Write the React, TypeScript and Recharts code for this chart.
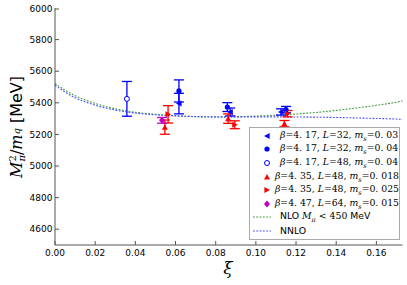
import React from 'react';
import {
  ComposedChart,
  Line,
  Scatter,
  ErrorBar,
  XAxis,
  YAxis,
} from 'recharts';

// lattice points: xi, value, error
const b417L32ms03 = [
  { x: 0.0617, y: 5395, err: 65 },
  { x: 0.0872, y: 5342, err: 25 },
  { x: 0.1125, y: 5342, err: 20 },
];
const b417L32ms04 = [
  { x: 0.0617, y: 5475, err: 70 },
  { x: 0.0858, y: 5373, err: 28 },
  { x: 0.1150, y: 5357, err: 20 },
];
const b417L48ms04 = [{ x: 0.0358, y: 5425, err: 110 }];
const b435L48ms018 = [
  { x: 0.0547, y: 5246, err: 45 },
  { x: 0.0862, y: 5300, err: 30 },
  { x: 0.1142, y: 5268, err: 20 },
];
const b435L48ms025 = [
  { x: 0.0563, y: 5327, err: 55 },
  { x: 0.0895, y: 5261, err: 25 },
  { x: 0.1158, y: 5331, err: 20 },
];
const b447L64ms015 = [{ x: 0.0533, y: 5289, err: 18 }];

// fit curves
const curveXi = [0, 0.01, 0.02, 0.03, 0.04, 0.05, 0.06, 0.07, 0.08, 0.09, 0.1, 0.11, 0.12, 0.13, 0.14, 0.15, 0.16, 0.17, 0.173];
const nloValues = [5522, 5445, 5396, 5362, 5340, 5327, 5318, 5312, 5310, 5312, 5316, 5321, 5329, 5339, 5352, 5367, 5384, 5404, 5412];
const nnloValues = [5511, 5432, 5385, 5354, 5335, 5324, 5317, 5313, 5311, 5311, 5311, 5311, 5310, 5309, 5307, 5304, 5301, 5297, 5295];

const xTicks = [0, 0.02, 0.04, 0.06, 0.08, 0.1, 0.12, 0.14, 0.16];
const yTicks = [4600, 4800, 5000, 5200, 5400, 5600, 5800, 6000];

const nloData = curveXi.map((x, i) => ({ x, y: nloValues[i] }));
const nnloData = curveXi.map((x, i) => ({ x, y: nnloValues[i] }));

const BLUE = '#0000ff';
const RED = '#ff0000';
const MAGENTA = '#bf00bf';
const AXIS = '#555';
const TICK_FONT = '"DejaVu Sans", sans-serif';
const MATH_FONT = '"DejaVu Serif", serif';

type ShapeFn = (cx: number, cy: number, color: string) => React.ReactElement;

const leftTri: ShapeFn = (cx, cy, c) => (
  <polygon points={`${cx - 3},${cy} ${cx + 2.6},${cy - 3} ${cx + 2.6},${cy + 3}`} fill={c} />
);
const rightTri: ShapeFn = (cx, cy, c) => (
  <polygon points={`${cx + 3},${cy} ${cx - 2.6},${cy - 3} ${cx - 2.6},${cy + 3}`} fill={c} />
);
const upTri: ShapeFn = (cx, cy, c) => (
  <polygon points={`${cx},${cy - 3} ${cx - 3},${cy + 2.6} ${cx + 3},${cy + 2.6}`} fill={c} />
);
const dot: ShapeFn = (cx, cy, c) => <circle cx={cx} cy={cy} r={2.6} fill={c} />;
const ring: ShapeFn = (cx, cy, c) => <circle cx={cx} cy={cy} r={2.5} fill="#fff" stroke={c} strokeWidth={1} />;
const diamond: ShapeFn = (cx, cy, c) => (
  <polygon points={`${cx},${cy - 3.5} ${cx + 3},${cy} ${cx},${cy + 3.5} ${cx - 3},${cy}`} fill={c} />
);

const series = [
  { data: b417L32ms03, color: BLUE, shape: leftTri, beta: '4. 17', L: '32', ms: '0. 03' },
  { data: b417L32ms04, color: BLUE, shape: dot, beta: '4. 17', L: '32', ms: '0. 04' },
  { data: b417L48ms04, color: BLUE, shape: ring, beta: '4. 17', L: '48', ms: '0. 04' },
  { data: b435L48ms018, color: RED, shape: upTri, beta: '4. 35', L: '48', ms: '0. 018' },
  { data: b435L48ms025, color: RED, shape: rightTri, beta: '4. 35', L: '48', ms: '0. 025' },
  { data: b447L64ms015, color: MAGENTA, shape: diamond, beta: '4. 47', L: '64', ms: '0. 015' },
];

const BottomTick = (props: any) => {
  const { x, y, payload } = props;
  return (
    <g>
      <line x1={x} x2={x} y1={y} y2={y - 4} stroke={AXIS} />
      <text x={x} y={y + 11} textAnchor="middle" fontSize={9} fontFamily={TICK_FONT} fill="#000">
        {Number(payload.value).toFixed(2)}
      </text>
    </g>
  );
};
const TopTick = (props: any) => {
  const { x, y } = props;
  return <line x1={x} x2={x} y1={y} y2={y + 4} stroke={AXIS} />;
};
const LeftTick = (props: any) => {
  const { x, y, payload } = props;
  return (
    <g>
      <line x1={x} x2={x + 4} y1={y} y2={y} stroke={AXIS} />
      <text x={x - 2.5} y={y + 3.2} textAnchor="end" fontSize={9} fontFamily={TICK_FONT} fill="#000">
        {payload.value}
      </text>
    </g>
  );
};
const RightTick = (props: any) => {
  const { x, y } = props;
  return <line x1={x} x2={x - 4} y1={y} y2={y} stroke={AXIS} />;
};

const LegendRow = ({ s }: { s: (typeof series)[number] }) => (
  <div style={{ display: 'flex', alignItems: 'center', height: 13.6 }}>
    <svg width={26} height={12}>{s.shape(17, 6, s.color)}</svg>
    <span style={{ marginLeft: 4, fontFamily: MATH_FONT, fontSize: 9.3, whiteSpace: 'nowrap' }}>
      <i>β</i>=<span>{s.beta}</span>, <i>L</i>={s.L}, <i>m</i>
      <sub style={{ fontSize: 6.5 }}><i>s</i></sub>={s.ms}
    </span>
  </div>
);

const LineRow = ({ color, children }: { color: string; children: React.ReactNode }) => (
  <div style={{ display: 'flex', alignItems: 'center', height: 13.6 }}>
    <svg width={26} height={12}>
      <line x1={3} x2={21} y1={6} y2={6} stroke={color} strokeWidth={1.1} strokeDasharray="1.8 1.5" />
    </svg>
    <span style={{ marginLeft: 4, fontFamily: TICK_FONT, fontSize: 9.3, whiteSpace: 'nowrap' }}>{children}</span>
  </div>
);

export default function App() {
  return (
    <div style={{ position: 'absolute', left: 0, top: 0, width: 407, height: 285, background: '#fff' }}>
      <ComposedChart width={407} height={285} margin={{ top: 8, right: 4.5, bottom: 0, left: 0 }}>
        <XAxis
          xAxisId="b"
          dataKey="x"
          type="number"
          domain={[0, 0.173]}
          ticks={xTicks}
          allowDataOverflow
          height={40}
          tickSize={0}
          tickMargin={0}
          tickLine={false}
          axisLine={{ stroke: AXIS }}
          tick={<BottomTick />}
        />
        <XAxis
          xAxisId="t"
          orientation="top"
          dataKey="x"
          type="number"
          domain={[0, 0.173]}
          ticks={xTicks}
          allowDataOverflow
          height={0}
          tickSize={0}
          tickMargin={0}
          tickLine={false}
          axisLine={{ stroke: AXIS }}
          tick={<TopTick />}
        />
        <YAxis
          yAxisId="l"
          type="number"
          domain={[4500, 6000]}
          ticks={yTicks}
          allowDataOverflow
          width={55}
          tickSize={0}
          tickMargin={0}
          tickLine={false}
          axisLine={{ stroke: AXIS }}
          tick={<LeftTick />}
        />
        <YAxis
          yAxisId="r"
          orientation="right"
          type="number"
          domain={[4500, 6000]}
          ticks={yTicks}
          allowDataOverflow
          width={0}
          tickSize={0}
          tickMargin={0}
          tickLine={false}
          axisLine={{ stroke: AXIS }}
          tick={<RightTick />}
        />
        <Line
          xAxisId="b"
          yAxisId="l"
          data={nloData}
          dataKey="y"
          type="monotone"
          stroke="#3a9a3a"
          strokeWidth={1.1}
          strokeDasharray="1.8 1.5"
          dot={false}
          isAnimationActive={false}
        />
        <Line
          xAxisId="b"
          yAxisId="l"
          data={nnloData}
          dataKey="y"
          type="monotone"
          stroke="#4a4aff"
          strokeWidth={1.1}
          strokeDasharray="1.8 1.5"
          dot={false}
          isAnimationActive={false}
        />
        {series.map((s, i) => (
          <Scatter
            key={i}
            xAxisId="b"
            yAxisId="l"
            data={s.data}
            dataKey="y"
            isAnimationActive={false}
            shape={(p: any) => s.shape(p.cx, p.cy, s.color)}
          >
            <ErrorBar dataKey="err" direction="y" width={5} stroke={s.color} strokeWidth={1.3} />
          </Scatter>
        ))}
      </ComposedChart>

      {/* legend */}
      <div
        style={{
          position: 'absolute',
          left: 249,
          top: 127,
          width: 151,
          height: 113,
          border: '1px solid #aaa',
          background: '#fff',
          boxSizing: 'border-box',
          paddingTop: 1,
        }}
      >
        {series.map((s, i) => (
          <LegendRow key={i} s={s} />
        ))}
        <LineRow color="#3a9a3a">
          NLO <i style={{ fontFamily: MATH_FONT }}>M</i>
          <sub style={{ fontSize: 6.5, fontFamily: MATH_FONT }}><i>π</i></sub>
          <span style={{ fontFamily: MATH_FONT }}> &lt; 450</span> MeV
        </LineRow>
        <LineRow color="#4a4aff">NNLO</LineRow>
      </div>

      {/* y label */}
      <div
        style={{
          position: 'absolute',
          left: 16,
          top: 127,
          transform: 'translate(-50%, -50%) rotate(-90deg)',
          whiteSpace: 'nowrap',
          fontSize: 16,
          fontFamily: TICK_FONT,
          display: 'flex',
          alignItems: 'center',
        }}
      >
        <i style={{ fontFamily: MATH_FONT }}>M</i>
        <span style={{ display: 'inline-flex', flexDirection: 'column', fontSize: 10, lineHeight: '9px', fontFamily: MATH_FONT }}>
          <span>2</span>
          <i>π</i>
        </span>
        <span style={{ fontFamily: MATH_FONT }}>/</span>
        <i style={{ fontFamily: MATH_FONT }}>m</i>
        <sub style={{ fontSize: 10, fontFamily: MATH_FONT }}><i>q</i></sub>
        <span style={{ marginLeft: 5 }}>[MeV]</span>
      </div>

      {/* x label */}
      <div
        style={{
          position: 'absolute',
          left: 228,
          top: 268,
          transform: 'translate(-50%, -50%)',
          fontFamily: MATH_FONT,
          fontStyle: 'italic',
          fontSize: 17,
        }}
      >
        ξ
      </div>
    </div>
  );
}
